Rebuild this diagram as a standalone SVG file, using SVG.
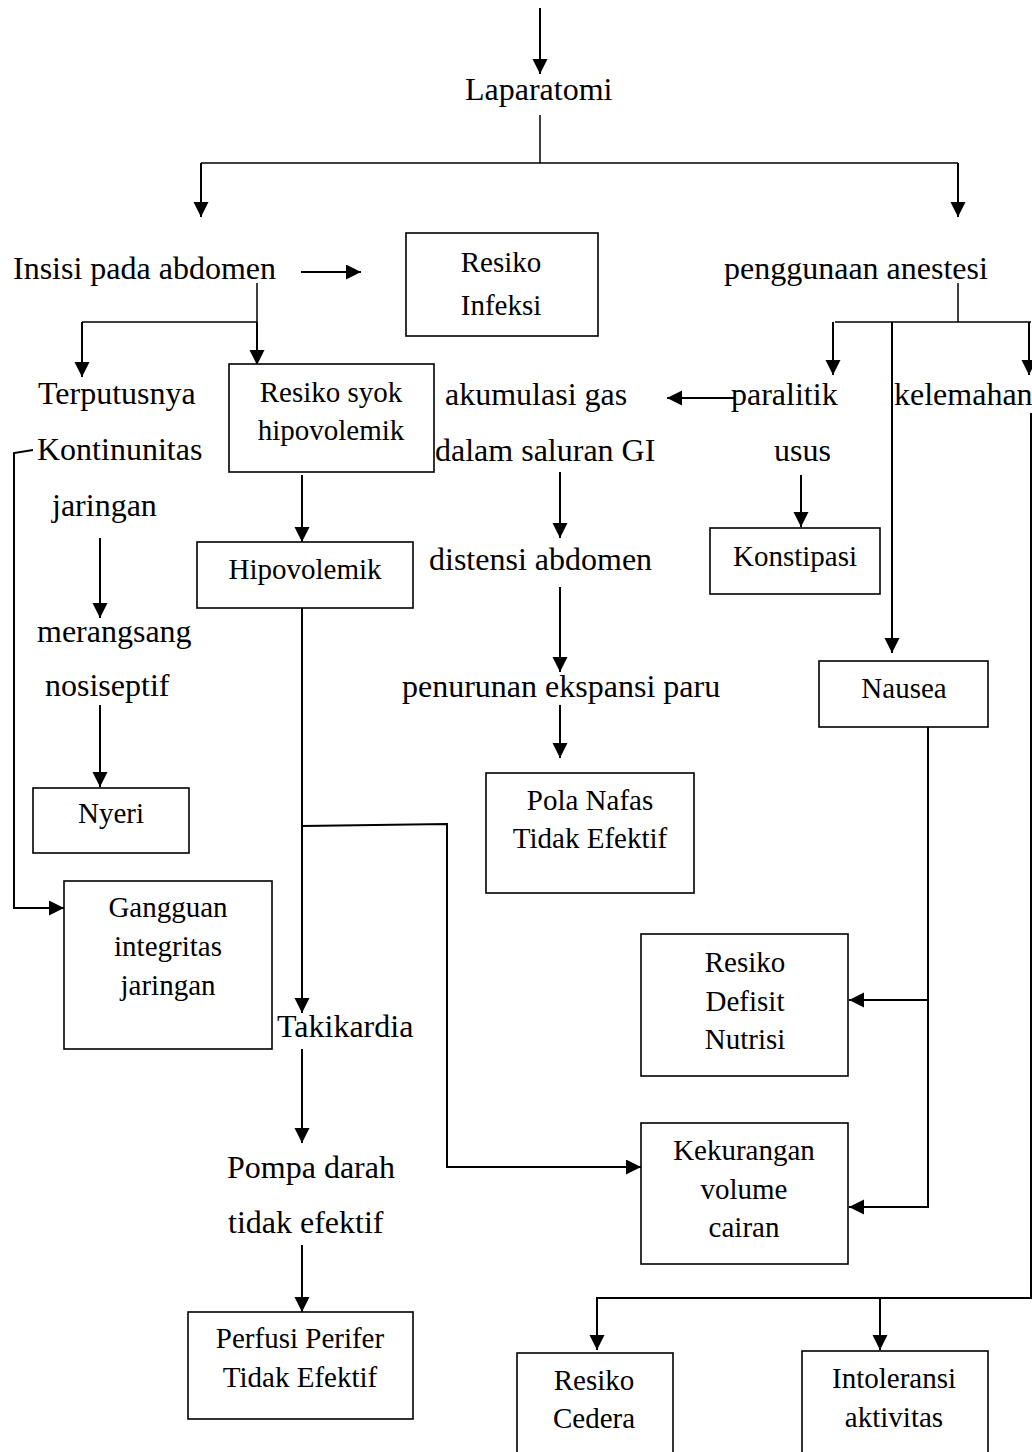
<svg xmlns="http://www.w3.org/2000/svg" width="1032" height="1452" viewBox="0 0 1032 1452">
<style>
text{font-family:"Liberation Serif","Times New Roman",serif;fill:#000}
.t{font-size:32px}
.b{font-size:29px;text-anchor:middle}
.box{fill:#fff;stroke:#000;stroke-width:1.6}
.c{fill:none;stroke:#000;stroke-width:2}
.c1{fill:none;stroke:#000;stroke-width:1.5}
</style>
<defs>
<marker id="ah" markerUnits="userSpaceOnUse" markerWidth="16" markerHeight="16" refX="15" refY="7.5" orient="auto">
<path d="M0,0 L15,7.5 L0,15 z" fill="#000"/>
</marker>
</defs>
<rect width="1032" height="1452" fill="#fff"/>
<g id="connectors">
<path class="c" d="M540,8 V74" marker-end="url(#ah)"/>
<path class="c1" d="M540,115 V163 M201,163 H958"/>
<path class="c" d="M201,163 V217" marker-end="url(#ah)"/>
<path class="c" d="M958,163 V217" marker-end="url(#ah)"/>
<path class="c" d="M301,272 H361" marker-end="url(#ah)"/>
<path class="c1" d="M257,283 V322 M82,322 H257"/>
<path class="c" d="M82,322 V377" marker-end="url(#ah)"/>
<path class="c" d="M257,322 V365" marker-end="url(#ah)"/>
<path class="c1" d="M958,283 V322 M835,322 H1031"/>
<path class="c" d="M833,322 V375" marker-end="url(#ah)"/>
<path class="c" d="M1029,322 V375" marker-end="url(#ah)"/>
<path class="c" d="M892,322 V653" marker-end="url(#ah)"/>
<path class="c" d="M735,398 H667" marker-end="url(#ah)"/>
<path class="c" d="M33,450 L14,453 V908 H64" marker-end="url(#ah)"/>
<path class="c" d="M100,538 V618" marker-end="url(#ah)"/>
<path class="c" d="M100,705 V787" marker-end="url(#ah)"/>
<path class="c" d="M302,475 V542" marker-end="url(#ah)"/>
<path class="c" d="M302,608 V1013" marker-end="url(#ah)"/>
<path class="c" d="M302,826 L447,824 V1167 H641" marker-end="url(#ah)"/>
<path class="c" d="M560,472 V538" marker-end="url(#ah)"/>
<path class="c" d="M560,587 V672" marker-end="url(#ah)"/>
<path class="c" d="M560,705 V758" marker-end="url(#ah)"/>
<path class="c" d="M801,475 V527" marker-end="url(#ah)"/>
<path class="c" d="M928,727 V1207 H849" marker-end="url(#ah)"/>
<path class="c" d="M928,1000 H849" marker-end="url(#ah)"/>
<path class="c" d="M302,1049 V1143" marker-end="url(#ah)"/>
<path class="c" d="M302,1245 V1312" marker-end="url(#ah)"/>
<path class="c" d="M1031,413 V1298 H597 V1350" marker-end="url(#ah)"/>
<path class="c" d="M880,1298 V1350" marker-end="url(#ah)"/>
</g>
<g id="n-laparatomi"><text class="t" x="465" y="100">Laparatomi</text></g>
<g id="n-insisi"><text class="t" x="13" y="279">Insisi pada abdomen</text></g>
<g id="n-anestesi"><text class="t" x="724" y="279">penggunaan anestesi</text></g>
<g id="n-infeksi"><rect class="box" x="406" y="233" width="192" height="103"/><text class="b" x="501" y="272">Resiko</text><text class="b" x="501" y="315">Infeksi</text></g>
<g id="n-terputus"><text class="t" x="38" y="404">Terputusnya</text><text class="t" x="37" y="460">Kontinunitas</text><text class="t" x="52" y="516">jaringan</text></g>
<g id="n-merangsang"><text class="t" x="37" y="642">merangsang</text><text class="t" x="45" y="696">nosiseptif</text></g>
<g id="n-syok"><rect class="box" x="229" y="364" width="205" height="108"/><text class="b" x="331" y="402">Resiko syok</text><text class="b" x="331" y="440">hipovolemik</text></g>
<g id="n-akumulasi"><text class="t" x="445" y="405">akumulasi gas</text><text class="t" x="435" y="461">dalam saluran GI</text></g>
<g id="n-paralitik"><text class="t" x="731" y="405">paralitik</text><text class="t" x="774" y="461">usus</text></g>
<g id="n-kelemahan"><text class="t" x="894" y="405">kelemahan</text></g>
<g id="n-hipovolemik"><rect class="box" x="197" y="542" width="216" height="66"/><text class="b" x="305" y="579">Hipovolemik</text></g>
<g id="n-distensi"><text class="t" x="429" y="570">distensi abdomen</text></g>
<g id="n-konstipasi"><rect class="box" x="710" y="528" width="170" height="66"/><text class="b" x="795" y="566">Konstipasi</text></g>
<g id="n-penurunan"><text class="t" x="402" y="697">penurunan ekspansi paru</text></g>
<g id="n-nausea"><rect class="box" x="819" y="661" width="169" height="66"/><text class="b" x="904" y="698">Nausea</text></g>
<g id="n-nyeri"><rect class="box" x="33" y="788" width="156" height="65"/><text class="b" x="111" y="823">Nyeri</text></g>
<g id="n-polanafas"><rect class="box" x="486" y="773" width="208" height="120"/><text class="b" x="590" y="810">Pola Nafas</text><text class="b" x="590" y="848">Tidak Efektif</text></g>
<g id="n-gangguan"><rect class="box" x="64" y="881" width="208" height="168"/><text class="b" x="168" y="917">Gangguan</text><text class="b" x="168" y="956">integritas</text><text class="b" x="168" y="995">jaringan</text></g>
<g id="n-defisit"><rect class="box" x="641" y="934" width="207" height="142"/><text class="b" x="745" y="972">Resiko</text><text class="b" x="745" y="1011">Defisit</text><text class="b" x="745" y="1049">Nutrisi</text></g>
<g id="n-takikardia"><text class="t" x="277" y="1037">Takikardia</text></g>
<g id="n-kekurangan"><rect class="box" x="641" y="1123" width="207" height="141"/><text class="b" x="744" y="1160">Kekurangan</text><text class="b" x="744" y="1199">volume</text><text class="b" x="744" y="1237">cairan</text></g>
<g id="n-pompa"><text class="t" x="227" y="1178">Pompa darah</text><text class="t" x="228" y="1233">tidak efektif</text></g>
<g id="n-perfusi"><rect class="box" x="188" y="1312" width="225" height="107"/><text class="b" x="300" y="1348">Perfusi Perifer</text><text class="b" x="300" y="1387">Tidak Efektif</text></g>
<g id="n-cedera"><rect class="box" x="517" y="1353" width="156" height="110"/><text class="b" x="594" y="1390">Resiko</text><text class="b" x="594" y="1428">Cedera</text></g>
<g id="n-intoleransi"><rect class="box" x="802" y="1351" width="186" height="112"/><text class="b" x="894" y="1388">Intoleransi</text><text class="b" x="894" y="1427">aktivitas</text></g>
</svg>
